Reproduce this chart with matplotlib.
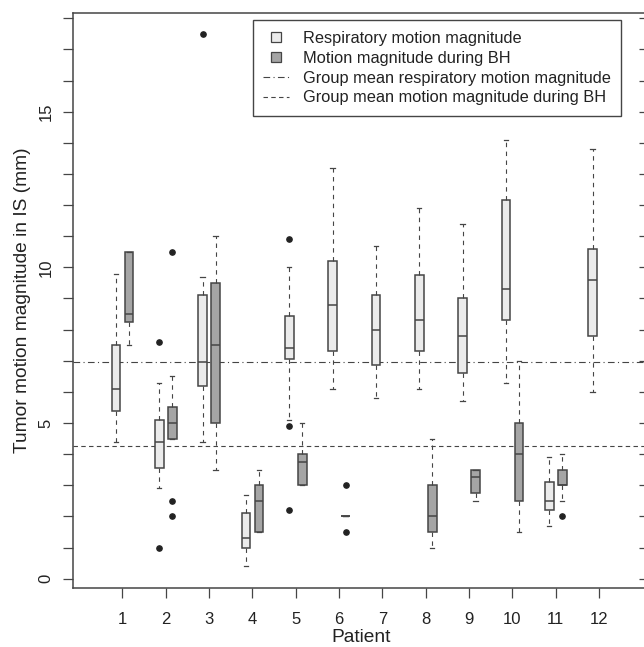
import matplotlib
matplotlib.use("Agg")
import matplotlib.pyplot as plt
from matplotlib.lines import Line2D

plt.rcParams['font.family'] = ['Liberation Sans', 'DejaVu Sans']

patients = list(range(1, 13))

# respiratory motion magnitude (light boxes), patients 1-12
resp_lo = [4.4, 2.9, 4.4, 0.4, 5.1, 6.1, 5.8, 6.1, 5.7, 6.3, 1.7, 6.0]
resp_q1 = [5.4, 3.55, 6.2, 1.0, 7.05, 7.3, 6.85, 7.3, 6.6, 8.3, 2.2, 7.8]
resp_med = [6.1, 4.4, 6.95, 1.3, 7.4, 8.8, 8.0, 8.3, 7.8, 9.3, 2.5, 9.6]
resp_q3 = [7.5, 5.1, 9.1, 2.1, 8.45, 10.2, 9.1, 9.75, 9.0, 12.15, 3.1, 10.6]
resp_hi = [9.8, 6.3, 9.7, 2.7, 10.0, 13.2, 10.7, 11.9, 11.4, 14.1, 3.9, 13.8]
resp_fliers = [[], [7.6, 1.0], [17.5], [], [10.9, 4.9, 2.2], [], [], [], [], [], [], []]

# motion magnitude during breath hold (dark boxes); no data for 7 and 12
bh_patients = [1, 2, 3, 4, 5, 6, 8, 9, 10, 11]
bh_lo = [7.5, 4.5, 3.5, 1.5, 3.0, 2.0, 1.0, 2.5, 1.5, 2.5]
bh_q1 = [8.25, 4.5, 5.0, 1.5, 3.0, 2.0, 1.5, 2.75, 2.5, 3.0]
bh_med = [8.5, 5.0, 7.5, 2.5, 3.75, 2.0, 2.0, 3.25, 4.0, 3.0]
bh_q3 = [10.5, 5.5, 9.5, 3.0, 4.0, 2.0, 3.0, 3.5, 5.0, 3.5]
bh_hi = [10.5, 6.5, 11.0, 3.5, 5.0, 2.0, 4.5, 3.5, 7.0, 4.0]
bh_fliers = [[], [10.5, 2.5, 2.0], [], [], [], [3.0, 1.5], [], [], [], [2.0]]

mean_resp = 6.95
mean_bh = 4.25

edge = '#454545'
light = '#ebebeb'
dark = '#a5a5a5'
txt = '#222222'


def make_stats(lo, q1, med, q3, hi, fl):
    return [dict(whislo=a, q1=b, med=c, q3=d, whishi=e, fliers=f)
            for a, b, c, d, e, f in zip(lo, q1, med, q3, hi, fl)]


fig = plt.figure(figsize=(6.44, 6.47), dpi=100)
ax = fig.add_axes([73 / 644, 59 / 647, 576 / 644, 575 / 647])

ax.axhline(mean_resp, color=edge, lw=0.8, ls=(0, (6, 3, 1, 3)), zorder=1)
ax.axhline(mean_bh, color=edge, lw=0.8, ls=(0, (4, 3)), zorder=1)

common = dict(widths=0.2, capwidths=0.1, patch_artist=True, manage_ticks=False,
              whiskerprops=dict(color=edge, lw=0.8, ls=(0, (4, 4))),
              capprops=dict(color=edge, lw=0.9),
              medianprops=dict(color=edge, lw=1.1),
              flierprops=dict(marker='o', markerfacecolor='#222222',
                              markeredgecolor='#222222', markersize=3.8),
              zorder=2)

ax.bxp(make_stats(resp_lo, resp_q1, resp_med, resp_q3, resp_hi, resp_fliers),
       positions=[p - 0.15 for p in patients],
       boxprops=dict(facecolor=light, edgecolor=edge, lw=1.1), **common)
ax.bxp(make_stats(bh_lo, bh_q1, bh_med, bh_q3, bh_hi, bh_fliers),
       positions=[p + 0.15 for p in bh_patients],
       boxprops=dict(facecolor=dark, edgecolor=edge, lw=1.1), **common)

ax.set_xlim(-0.14, 13.15)
ax.set_ylim(-0.3, 18.17)

ax.set_xticks(patients)
ax.set_xticklabels([str(p) for p in patients], fontsize=12, color=txt)
ax.set_yticks(range(0, 19))
ax.set_yticklabels([str(v) if v % 5 == 0 else '' for v in range(0, 19)],
                   rotation=90, va='center', fontsize=12, color=txt)
ax.tick_params(axis='y', direction='out', length=7.2, width=0.9, color=edge, pad=7)
ax.tick_params(axis='x', direction='out', length=7, width=0.9, color=edge, pad=10.5)

for s in ax.spines.values():
    s.set_color(edge)
    s.set_linewidth(1.1)

ax2 = ax.twinx()
ax2.set_ylim(ax.get_ylim())
ax2.set_yticks(range(0, 19))
ax2.tick_params(direction='in', length=7.2, width=0.9, color=edge, labelright=False)
for s in ax2.spines.values():
    s.set_visible(False)

ax.set_xlabel('Patient', fontsize=13.8, color=txt, labelpad=1.2)
ax.set_ylabel('Tumor motion magnitude in IS (mm)', fontsize=13.8, color=txt, labelpad=5)

handles = [
    Line2D([], [], ls='none', marker='s', markersize=6.5, markerfacecolor=light,
           markeredgecolor=edge, markeredgewidth=0.9),
    Line2D([], [], ls='none', marker='s', markersize=6.5, markerfacecolor=dark,
           markeredgecolor=edge, markeredgewidth=0.9),
    Line2D([], [], color=edge, lw=0.8, ls=(0, (6, 3, 1, 3))),
    Line2D([], [], color=edge, lw=0.8, ls=(0, (4, 3))),
]
labels = ['Respiratory motion magnitude', 'Motion magnitude during BH',
          'Group mean respiratory motion magnitude', 'Group mean motion magnitude during BH']
leg = fig.legend(handles, labels, loc='upper left',
                 bbox_to_anchor=(252.6 / 644, 1 - 20.5 / 647),
                 fontsize=11.8, frameon=True, fancybox=False, framealpha=1,
                 edgecolor=edge, borderaxespad=0, handlelength=1.6,
                 handletextpad=0.8, labelspacing=0.29, borderpad=0.65)
leg.get_frame().set_linewidth(1.0)
for t in leg.get_texts():
    t.set_color(txt)

fig.savefig('out.png', dpi=100)
